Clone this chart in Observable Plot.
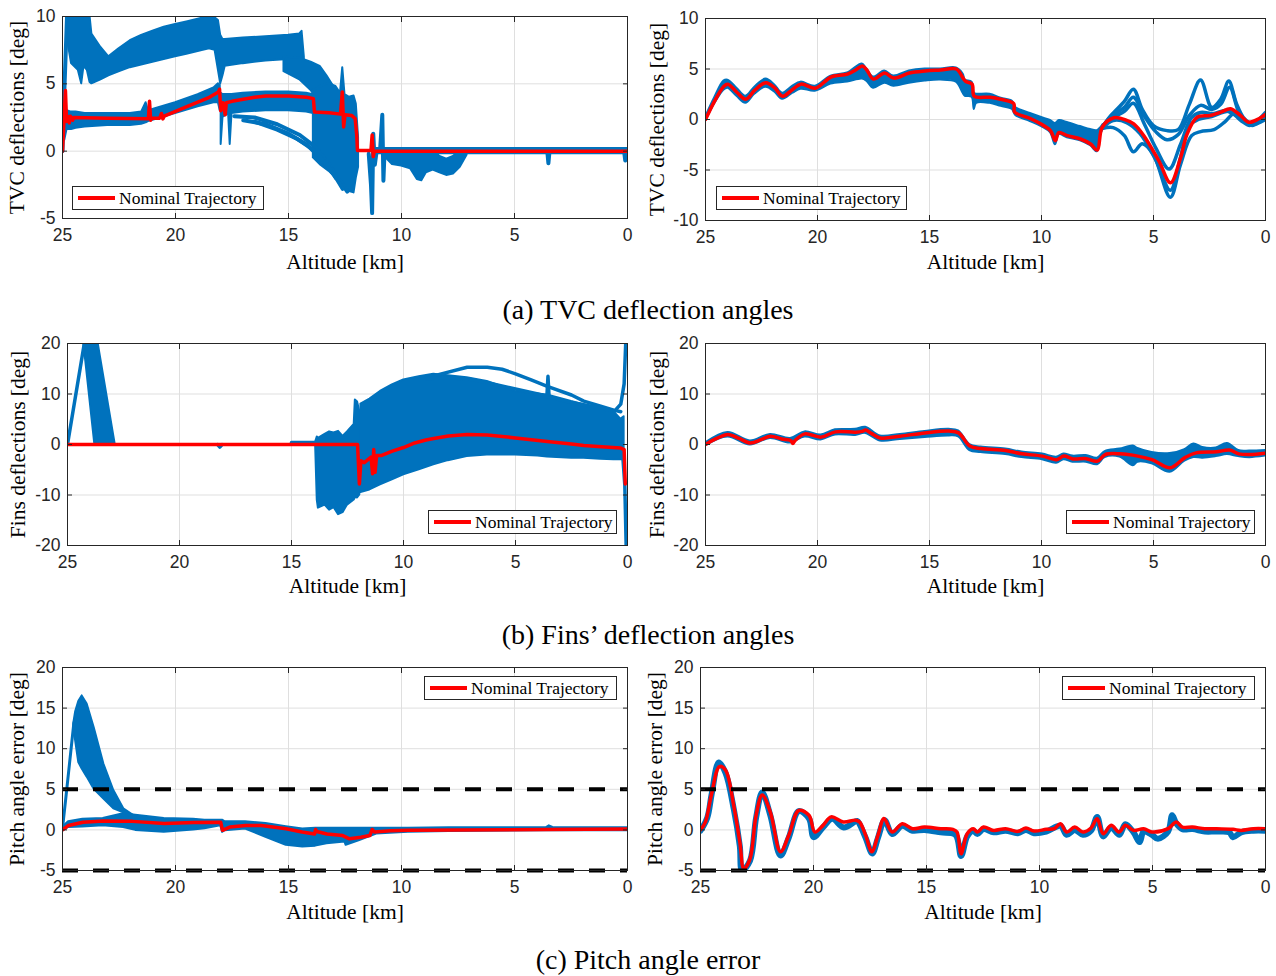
<!DOCTYPE html>
<html><head><meta charset="utf-8">
<script src="https://cdn.jsdelivr.net/npm/d3@7"></script>
<script src="https://cdn.jsdelivr.net/npm/@observablehq/plot@0.6"></script>
<style>
body{margin:0;background:#fff;}
#page{position:relative;width:1276px;height:976px;overflow:hidden;background:#fff;}
.panel{position:absolute;}
.legend{position:absolute;border:1px solid #262626;background:#fff;box-sizing:border-box;font-family:"Liberation Serif",serif;font-size:17.5px;color:#000;}
.legend .sw{position:absolute;left:5px;top:50%;width:37px;height:4px;margin-top:-2px;background:#ff0000;}
.legend .tx{position:absolute;left:46px;top:0;line-height:22px;white-space:nowrap;}
.caption{position:absolute;left:0;width:1296px;text-align:center;font-family:"Liberation Serif",serif;font-size:28px;line-height:28px;color:#000;}
</style></head>
<body><div id="page"></div>
<script>
// ---------- shared ----------
const altTicks = [25, 20, 15, 10, 5, 0];
const pitchLimits = [5, -5];

// ---------- (a) TVC deflections, left ----------
const aL_nominal = [[25,0],[24.87,4.5],[24.82,2.2],[24.78,2.6],[24.7,2.1],[24.65,2.6],[24.55,2.3],[24.5,2.5],[23,2.45],[21.2,2.4],[21.15,3.7],[21.1,2.3],[21.05,2.45],[20.7,2.45],[20.62,2.8],[20.56,2.4],[20.5,2.6],[19.5,3.3],[18.5,4.0],[18.1,4.4],[18.05,4.6],[18.0,3.0],[17.9,3.6],[17.8,2.7],[17.75,3.6],[17.5,3.7],[17,3.85],[16.5,4.0],[16,4.1],[15,4.1],[14.2,4.0],[13.9,3.9],[13.85,2.9],[13.2,2.85],[12.7,2.75],[12.62,4.4],[12.56,1.8],[12.5,2.7],[12.2,2.65],[12.05,2.4],[11.98,1.2],[11.95,0.05],[11.35,0.05],[11.3,1.2],[11.25,-0.4],[11.2,0],[0,0]];
const aL_upperBand = [[24.8,8.5,10],[24.6,6.5,10],[24.3,6.0,10],[24.15,5.0,10],[24.05,6.3,10],[23.9,6.0,10],[23.78,5.1,10],[23.7,5.0,8.7],[23.3,5.3,7.7],[22.95,5.6,7.0],[22.5,5.9,7.6],[22.0,6.2,8.2],[21.5,6.4,8.6],[21.0,6.6,8.9],[20.5,6.8,9.2],[20.0,7.0,9.4],[19.5,7.2,9.6],[19.0,7.4,9.8],[18.5,7.6,10],[18.25,7.5,9.9],[18.1,6.0,9.7],[18.0,5.0,8.6],[17.9,5.6,8.3],[17.8,6.3,8.3],[17.0,6.5,8.4],[16.0,6.7,8.5],[15.0,6.8,8.6],[14.5,6.8,8.7],[14.4,6.6,8.9],[14.3,6.0,7.0]];
const aL_upperTails = [[15.2,5.9,7.0],[14.5,5.3,6.9],[14.0,4.5,6.6],[13.6,3.5,6.3],[13.3,2.5,5.6],[13.0,1.5,4.8],[12.7,0.5,3.8],[12.45,-0.3,2.5],[12.25,-0.6,1.0],[12.1,-0.3,0]];
const aL_lowerBand = [[24.9,0.8,2.5],[24.8,1.6,3.0],[24.6,1.6,2.9],[24.4,1.7,2.9],[24.0,1.8,2.8],[23.0,1.9,2.8],[22.0,1.9,2.8],[21.5,2.0,2.9],[21.3,2.1,3.6],[21.2,2.2,3.0],[21.0,2.3,3.1],[20.0,2.8,3.6],[19.0,3.3,4.2],[18.3,3.6,4.7],[18.1,3.6,5.0],[18.02,3.0,4.9]];
const aL_lowerBand2 = [[17.98,0.5,4.3],[17.9,2.5,4.2],[17.65,2.8,4.2],[17.58,0.5,4.2],[17.5,2.8,4.2],[17.0,2.9,4.3],[16.0,3.0,4.4],[15.0,3.0,4.4],[14.2,2.9,4.3],[13.9,2.8,4.2]];
const aL_tangle = [[13.9,-0.5,4.5],[13.6,-1.0,4.8],[13.2,-1.5,5.0],[12.9,-2.0,4.8],[12.7,-2.2,4.3],[12.6,-2.3,6.2],[12.5,-2.5,4.2],[12.3,-3.0,4.0],[12.1,-3.1,4.1],[12.0,-2.0,3.5],[11.9,-1.2,1.0]];
const aL_below = [[10.8,-0.3,0.15],[10.4,-1.0,0.15],[10.0,-1.1,0.15],[9.6,-1.3,0.15],[9.3,-2.1,0.15],[9.1,-2.2,0.15],[8.9,-1.6,0.15],[8.6,-1.4,0.15],[8.3,-1.6,-0.4],[8.0,-1.8,-0.6],[7.7,-1.7,-0.4],[7.4,-1.2,0.15],[7.1,-0.3,0.15]];
const aL_zeroBand = [[11.2,-0.2,0.2],[0,-0.2,0.2]];
const aL_spike = [[25,0],[24.95,3],[24.8,10]];
const aL_fan1 = [[17.4,2.6],[16.5,2.5],[15.5,2.0],[14.5,1.2],[13.8,0.3],[13.3,-0.8],[12.8,-2.0],[12.4,-3.0]];
const aL_fan2 = [[17.0,2.3],[16.0,2.0],[15.0,1.3],[14.2,0.5],[13.6,-0.5],[13.0,-1.7],[12.6,-2.8]];
const aL_fan3 = [[16.5,2.2],[15.5,1.6],[14.6,0.9],[13.9,0.1],[13.3,-1.0],[12.9,-2.0]];
const aL_osc1 = [[11.45,-0.2],[11.35,-2.5],[11.3,-4.6],[11.25,1.3],[11.18,-1.0],[11.1,0]];
const aL_osc2 = [[10.95,0],[10.85,2.7],[10.8,-2.2],[10.75,0]];
const aL_blip1 = [[3.55,0],[3.5,-0.9],[3.45,0]];
const aL_blip2 = [[0.15,0],[0.1,-0.7],[0.05,0]];

// ---------- (a) TVC deflections, right ----------
const aR_nominal = [[25,0],[24.6,1.8],[24.18,3.3],[24.0,3.5],[23.6,2.7],[23.2,2.0],[22.8,2.9],[22.3,3.65],[21.9,3.1],[21.56,2.3],[21.1,3.0],[20.74,3.5],[20.1,3.1],[19.7,3.7],[19.4,4.2],[18.66,4.5],[18.3,4.9],[18.0,5.3],[17.8,4.9],[17.5,4.0],[17.0,4.6],[16.6,4.1],[15.9,4.6],[15.2,4.8],[14.5,4.9],[13.8,5.0],[13.4,3.8],[13.1,3.5],[13.0,2.3],[12.3,2.2],[11.83,2.0],[11.24,1.57],[11.2,0.75],[10.5,0.1],[10.04,-0.43],[9.6,-1.1],[9.38,-2.1],[9.23,-1.3],[8.85,-1.6],[8.26,-1.93],[7.81,-2.43],[7.51,-3.03],[7.29,-0.77],[6.77,0.17],[6.25,-0.03],[5.88,-0.43],[5.43,-1.6],[4.76,-4.1],[4.24,-6.27],[3.79,-3.77],[3.5,-1.43],[3.05,0.23],[2.46,0.4],[2.0,0.73],[1.56,1.07],[1.12,0.4],[0.75,-0.27],[0.3,0.07],[0,0.5]];
const aR_band = [[25,-0.2,0.2],[24.6,1.5,2.1],[24.18,2.9,3.8],[24.0,3.1,3.9],[23.6,2.3,3.1],[23.2,1.6,2.3],[22.8,2.5,3.2],[22.3,3.2,4.0],[21.9,2.7,3.4],[21.56,2.0,2.6],[21.1,2.6,3.3],[20.74,3.0,3.7],[20.1,2.8,3.3],[19.4,3.5,4.3],[18.66,3.7,4.6],[18.0,4.0,5.5],[17.8,3.8,5.0],[17.5,3.1,4.2],[17.0,3.6,4.8],[16.6,3.3,4.3],[15.9,3.6,4.8],[15.2,3.8,5.0],[14.5,3.9,5.0],[13.8,3.7,5.1],[13.5,2.6,4.5],[13.4,2.3,3.9],[13.1,2.2,3.7],[13.0,1.0,2.6],[12.9,1.6,2.5],[12.3,1.6,2.5],[11.8,1.3,2.1],[11.3,1.0,1.8],[11.15,0.4,1.2],[10.5,-0.2,0.6],[10.0,-0.7,0.2],[9.6,-1.3,-0.1],[9.38,-2.5,-0.4],[9.2,-1.5,-0.1],[8.85,-1.8,-0.3],[8.26,-2.1,-0.7],[7.81,-2.6,-1.0],[7.51,-3.2,-1.1],[7.35,-1.5,-0.8],[7.25,-1.0,-0.5]];
const aR_run1 = [[7.3,-0.8],[6.9,0.4],[6.3,1.8],[5.9,3.0],[5.5,1.0],[5.0,-0.6],[4.4,-1.1],[3.9,-1.0],[3.4,1.5],[2.9,3.9],[2.4,1.2],[2.0,2.0],[1.64,3.8],[1.3,1.6],[0.95,0.1],[0.6,-0.4],[0.3,-0.1],[0,0.4]];
const aR_run2 = [[7.3,-0.8],[6.9,0.3],[6.3,1.2],[5.9,2.2],[5.4,0.3],[4.9,-1.2],[4.4,-2.0],[3.9,-1.5],[3.4,0.4],[2.9,1.4],[2.4,1.0],[2.0,1.5],[1.6,3.2],[1.2,0.8],[0.8,-0.3],[0.3,-0.1],[0,0.2]];
const aR_run3 = [[7.3,-0.8],[6.8,0.2],[6.3,0.8],[5.9,1.6],[5.4,-0.5],[4.9,-2.8],[4.3,-4.9],[3.8,-2.5],[3.3,0.2],[2.9,0.7],[2.3,0.6],[1.8,0.9],[1.4,0.5],[1.0,0.0],[0.6,-0.5],[0,0]];
const aR_run4 = [[7.3,-0.9],[6.8,-0.8],[6.3,-1.6],[5.9,-3.2],[5.5,-2.4],[5.0,-3.5],[4.25,-7.7],[3.8,-4.5],[3.3,-1.6],[2.9,-1.2],[2.3,-1.0],[1.8,-0.2],[1.4,0.6],[1.0,0.1],[0.6,-0.6],[0.2,-0.1],[0,0.2]];
const aR_run5 = [[7.3,-0.9],[6.8,-0.1],[6.2,-0.3],[5.6,-1.4],[4.9,-4.0],[4.25,-7.0],[3.8,-3.8],[3.4,-0.6],[3.0,0.0],[2.4,0.3],[1.6,0.8],[1.1,-0.1],[0.7,-0.6],[0.3,0],[0,0.7]];

// ---------- (b) Fins deflections, left ----------
const bL_nominal = [[25,0],[12.05,0],[11.97,-7.8],[11.9,-3.2],[11.75,-3.6],[11.45,-2.5],[11.38,-5.8],[11.33,-1.0],[11.27,-5.5],[11.2,-2.2],[11.0,-2.2],[10.5,-1.3],[10.0,-0.6],[9.5,0.3],[9.0,0.9],[8.65,1.2],[8.0,1.7],[7.16,2.0],[6.26,1.9],[5.0,1.3],[3.58,0.6],[2.5,0.1],[1.95,-0.2],[1.0,-0.5],[0.3,-0.7],[0.15,-1.0],[0.1,-7.8]];
const bL_triangle = [[24.27,20,20],[23.78,0,20],[23.63,0,20],[22.87,0,0]];
const bL_dense = [[13.92,-0.5,0.5],[13.85,-11,1.5],[13.8,-12.6,1.2],[13.5,-12,2.0],[13.3,-13,2.5],[13.1,-12.5,2.3],[12.9,-13.9,2.6],[12.7,-13.5,1.6],[12.5,-12,2.5],[12.2,-11,4.0],[12.15,-10.5,8.8],[12.05,-10.6,8.4],[11.95,-10,6.5]];
const bL_fan = [[11.9,-9.5,8.0],[11.5,-9.0,9.0],[11.03,-8.0,10.5],[10.5,-7.0,11.8],[9.99,-6.0,12.8],[9.3,-5.0,13.4],[8.65,-4.0,13.9],[8.0,-3.2,13.6],[7.16,-2.4,13.2],[6.26,-2.1,12.5],[5.0,-2.1,10.5],[4.0,-2.3,10.0],[3.58,-2.5,9.8],[2.5,-2.7,8.5],[1.95,-2.7,7.9],[1.2,-2.9,7.0],[0.61,-3.0,6.5],[0.3,-3.0,5.0],[0.15,-3.0,5.5]];
const bL_edge = [[25,0],[24.25,20]];
const bL_flat = [[15,0.4],[13.9,0.4]];
const bL_blip = [[18.3,0],[18.2,-0.5],[18.1,0]];
const bL_top1 = [[8.65,13.6],[7.16,15.3],[6.26,15.3],[5.6,14.9],[5.0,14.0],[4.3,12.8],[3.58,11.5],[2.5,9.8],[1.95,8.6],[1.2,7.6],[0.61,6.8],[0.3,6.5]];
const bL_top2 = [[9.0,13.0],[8.0,13.2],[7.0,12.9],[6.0,12.0],[5.0,11.0],[4.0,10.0],[3.6,9.5],[3.55,13.5],[3.5,9.4],[2.5,8.3],[1.5,7.5],[0.6,6.6]];
const bL_endUp = [[0.6,6.5],[0.3,8.0],[0.15,12],[0.08,20]];
const bL_endDown = [[0.2,-3],[0.12,-8],[0.06,-20]];

// ---------- (b) Fins deflections, right ----------
const bR_nominal = [[25,0],[24.5,1.2],[24.0,2.0],[23.5,1.2],[23.0,0.3],[22.5,1.0],[22.1,1.65],[21.6,1.1],[21.2,0.8],[21.1,0.2],[21.0,0.8],[20.56,2.1],[19.84,1.46],[19.2,2.5],[18.3,2.45],[18.0,2.6],[17.85,2.85],[17.6,2.2],[17.2,1.3],[16.3,1.65],[15.2,2.3],[14.13,2.65],[13.7,2.3],[13.2,-0.3],[12.7,-0.8],[11.6,-1.2],[10.87,-1.85],[9.96,-2.3],[9.33,-3.0],[9.0,-2.3],[8.6,-2.85],[8.0,-2.8],[7.5,-3.3],[7.16,-2.0],[6.5,-1.85],[5.7,-2.3],[5.07,-3.0],[4.26,-4.6],[3.6,-2.6],[3.1,-1.66],[2.2,-1.45],[1.6,-1.1],[1.2,-1.85],[0.7,-2.0],[0,-1.7]];
const bR_band = [[25,-0.3,0.3],[24.0,1.5,2.4],[23.0,-0.1,0.7],[22.1,1.2,2.0],[21.2,0.3,1.2],[20.56,1.5,2.5],[19.84,0.9,1.9],[19.2,1.9,2.9],[18.3,1.8,3.0],[17.85,2.2,3.4],[17.2,0.7,1.7],[16.3,1.0,2.0],[15.2,1.4,2.6],[14.13,1.7,3.0],[13.7,1.5,2.7],[13.2,-1.2,0.0],[12.7,-1.6,-0.5],[11.6,-2.0,-0.9],[10.87,-2.6,-1.5],[9.96,-3.0,-1.9],[9.33,-3.7,-2.5],[9.0,-3.0,-1.9],[8.6,-3.5,-2.3],[8.0,-3.5,-2.2],[7.5,-4.0,-2.7],[7.16,-2.6,-1.4],[6.5,-2.5,-0.9],[5.9,-4.2,-0.3],[5.7,-3.5,-0.8],[5.07,-3.8,-1.6],[4.26,-5.5,-1.8],[3.6,-3.3,-1.0],[3.2,-2.6,0.1],[2.8,-2.7,-0.6],[2.2,-2.4,-0.7],[1.7,-2.0,0.2],[1.2,-2.4,-1.2],[0.7,-2.6,-1.3],[0,-2.3,-1.2]];

// ---------- (c) Pitch angle error, left ----------
const cL_nominal = [[25,0],[24.73,0.55],[24.1,0.95],[23.2,1.1],[21.9,1.05],[20.5,0.8],[19.2,0.9],[18.0,0.95],[17.92,-0.05],[17.6,0.35],[16.9,0.55],[16.2,0.55],[15.1,0.15],[14.4,-0.25],[13.85,-0.5],[13.8,0.05],[13.75,-0.2],[13.3,-0.5],[12.6,-0.7],[12.3,-1.1],[11.8,-0.9],[11.4,-0.7],[11.3,0.05],[11.2,-0.25],[10.5,-0.1],[9.7,-0.05],[0,0.1]];
const cL_lobe = [[24.5,12.5,13.1],[24.42,11.0,14.5],[24.28,8.3,15.8],[24.13,7.5,16.5],[23.91,6.5,15.5],[23.6,5.0,12.6],[23.17,3.8,8.1],[22.73,2.6,4.85],[22.29,2.1,2.6],[21.7,1.3,1.5]];
const cL_band = [[25,-0.2,0.3],[24.73,0.3,1.0],[24.1,0.35,1.3],[23.2,0.5,1.4],[22.3,0.3,2.0],[21.76,-0.06,1.8],[20.5,-0.3,1.4],[19.2,0,1.3],[18.7,0.15,1.2],[18.0,0.5,1.2],[17.92,-0.3,1.2],[17.8,-0.1,1.0],[16.9,0.1,1.0],[16.0,-0.9,0.8],[15.1,-1.9,0.4],[14.37,-2.1,0.1],[13.8,-2.0,0.2],[13.3,-1.7,0.2],[12.5,-1.5,0.2],[12.45,-1.9,0.2],[11.85,-1.3,0.2],[11.1,-0.5,0.2],[9.7,-0.3,0.2],[7.9,-0.2,0.25],[3.6,-0.1,0.25],[3.46,-0.1,0.5],[3.3,-0.1,0.3],[0,-0.1,0.25]];
const cL_edge = [[25,0.2],[24.85,4],[24.5,13.1],[24.2,16.1]];

// ---------- (c) Pitch angle error, right ----------
const cR_nominal = [[25,0],[24.78,1.0],[24.52,4.3],[24.16,7.8],[23.89,7.35],[23.53,3.0],[23.26,-1.5],[23.08,-4.8],[22.81,-3.56],[22.54,1.8],[22.27,4.3],[21.91,2.2],[21.46,-2.7],[21.1,-0.7],[20.65,2.4],[20.2,1.8],[19.94,-0.26],[19.58,0.56],[19.22,1.6],[18.68,0.97],[18.14,1.2],[17.96,0.97],[17.69,-0.68],[17.42,-2.7],[17.15,-0.68],[16.88,1.4],[16.52,-0.26],[16.07,0.76],[15.62,0.15],[15.09,0.35],[14.37,0.15],[13.83,0.07],[13.65,-0.26],[13.47,-2.94],[13.2,-0.47],[12.93,0.15],[12.75,-0.26],[12.48,0.35],[12.03,-0.06],[11.5,0.15],[10.96,-0.18],[10.6,0.23],[10.24,-0.14],[9.7,0.07],[9.34,0.15],[9.07,0.77],[8.8,-0.26],[8.44,0.35],[8.08,-0.26],[7.72,0.23],[7.45,1.38],[7.18,-0.47],[6.83,0.56],[6.47,-0.26],[6.2,0.56],[5.84,-0.06],[5.39,0.15],[5.03,-0.26],[4.31,0.15],[3.95,0.97],[3.68,0.35],[3.23,0.35],[2.69,0.15],[2.16,0.15],[1.44,0.07],[1.08,-0.06],[0.54,0.15],[0,0.15]];
const cR_bundle = [[25,-0.1],[24.7,1.5],[24.5,4.5],[24.19,8.3],[23.89,7.0],[23.53,2.6],[23.26,-2.0],[23.16,-5.0],[22.81,-3.8],[22.54,1.5],[22.27,4.6],[21.91,1.8],[21.46,-3.15],[21.1,-1.0],[20.65,2.3],[20.2,1.4],[19.99,-0.9],[19.58,0.3],[19.17,1.37],[18.66,0.3],[18.07,1.1],[17.96,0.7],[17.69,-1.0],[17.4,-2.9],[17.15,-1.0],[16.85,1.2],[16.52,-0.5],[16.07,0.5],[15.62,-0.1],[15.09,0.0],[14.37,-0.3],[13.72,-0.6],[13.47,-3.2],[13.2,-0.8],[12.93,-0.1],[12.75,-0.5],[12.48,0.1],[12.03,-0.3],[11.5,-0.1],[10.96,-0.4],[10.6,0.0],[10.24,-0.4],[9.7,-0.2],[9.07,0.5],[8.8,-0.6],[8.44,0.0],[8.08,-0.6],[7.72,-0.1],[7.45,1.6],[7.18,-0.8],[6.83,0.3],[6.47,-0.6],[6.2,0.7],[5.84,-0.3],[5.57,-1.5],[5.39,-0.2],[5.03,-0.6],[4.76,-1.1],[4.31,-0.2],[4.13,1.8],[3.95,0.8],[3.68,0.1],[3.23,0.1],[2.69,-0.2],[2.16,-0.2],[1.6,-0.3],[1.44,-0.9],[1.08,-0.3],[0.54,-0.1],[0,-0.1]];

// ---------- rendering ----------
const BLUE = "#0072BD", RED = "#FF0000";
const SANS = "'Liberation Sans', Arial, Helvetica, sans-serif";
const SERIF = "'Liberation Serif', 'Times New Roman', serif";
const X = d => d[0], Y = d => d[1], Y1 = d => d[1], Y2 = d => d[2];

function panel(cfg) {
  const curve = cfg.curve || "linear";
  const marks = [
    Plot.gridX(altTicks, {stroke: "#dfdfdf", strokeOpacity: 1}),
    Plot.gridY(cfg.yTicks, {stroke: "#dfdfdf", strokeOpacity: 1})
  ];
  for (const a of cfg.areas || []) marks.push(Plot.areaY(a, {x: X, y1: Y1, y2: Y2, fill: BLUE, stroke: BLUE, strokeWidth: 2, curve, clip: true}));
  for (const l of cfg.lines || []) marks.push(Plot.line(l, {x: X, y: Y, stroke: BLUE, strokeWidth: cfg.blueWidth || 3, strokeLinejoin: "round", curve, clip: true}));
  marks.push(Plot.line(cfg.nominal, {x: X, y: Y, stroke: RED, strokeWidth: 3.5, strokeLinejoin: "round", curve, clip: true}));
  if (cfg.limits) marks.push(Plot.ruleY(cfg.limits, {stroke: "#000", strokeWidth: 4, strokeDasharray: "16,15"}));
  marks.push(Plot.frame({stroke: "#262626", strokeWidth: 1}));
  marks.push(Plot.axisX(altTicks, {anchor: "bottom", tickSize: -5, tickPadding: 15, tickFormat: d => String(d), fontSize: 17.5, fontFamily: SANS, color: "#262626", label: null}));
  marks.push(Plot.axisX(altTicks, {anchor: "top", tickSize: -5, tickFormat: () => "", color: "#262626", label: null}));
  marks.push(Plot.axisY(cfg.yTicks, {anchor: "left", tickSize: -5, tickPadding: 12, tickFormat: d => String(d), fontSize: 17.5, fontFamily: SANS, color: "#262626", label: null}));
  marks.push(Plot.axisY(cfg.yTicks, {anchor: "right", tickSize: -5, tickFormat: () => "", color: "#262626", label: null}));
  marks.push(Plot.axisX([], {anchor: "bottom", tickSize: 0, label: "Altitude [km]", labelAnchor: "center", labelOffset: cfg.xLabelOffset, labelArrow: false, fontSize: 21.5, fontFamily: SERIF, color: "#000"}));
  marks.push(Plot.axisY([], {anchor: "left", tickSize: 0, label: cfg.yLabel, labelAnchor: "center", labelOffset: cfg.yLabelOffset, labelArrow: false, fontSize: 21.5, fontFamily: SERIF, color: "#000"}));
  const svg = Plot.plot({
    width: cfg.width, height: cfg.height,
    marginLeft: cfg.ml, marginRight: cfg.mr, marginTop: cfg.mt, marginBottom: cfg.mb,
    x: {domain: [25, 0]},
    y: {domain: cfg.yDomain},
    style: {background: "transparent", overflow: "visible"},
    marks
  });
  const div = document.createElement("div");
  div.className = "panel";
  div.style.left = cfg.left + "px";
  div.style.top = cfg.top + "px";
  div.appendChild(svg);
  document.getElementById("page").appendChild(div);
}

function legend(x, y, w, h) {
  const d = document.createElement("div");
  d.className = "legend";
  Object.assign(d.style, {left: x + "px", top: y + "px", width: w + "px", height: h + "px"});
  d.innerHTML = '<div class="sw"></div><div class="tx">Nominal Trajectory</div>';
  document.getElementById("page").appendChild(d);
}
function caption(text, y) {
  const d = document.createElement("div");
  d.className = "caption";
  d.style.top = (y - 14) + "px";
  d.textContent = text;
  document.getElementById("page").appendChild(d);
}

const tvcLabel = "TVC deflections [deg]";
const finsLabel = "Fins deflections [deg]";
const pitchLabel = "Pitch angle error [deg]";

panel({left: 0, top: 0, width: 640, height: 280, ml: 62, mr: 13, mt: 16, mb: 62,
  yDomain: [-5, 10], yTicks: [-5, 0, 5, 10], yLabel: tvcLabel, yLabelOffset: 54, xLabelOffset: 50,
  areas: [aL_zeroBand, aL_below, aL_upperBand, aL_upperTails, aL_lowerBand, aL_lowerBand2, aL_tangle],
  lines: [aL_spike, aL_fan1, aL_fan2, aL_fan3, aL_osc1, aL_osc2, aL_blip1, aL_blip2],
  blueWidth: 4, nominal: aL_nominal});
panel({left: 640, top: 0, width: 636, height: 280, ml: 65, mr: 11, mt: 18, mb: 60,
  yDomain: [-10, 10], yTicks: [-10, -5, 0, 5, 10], yLabel: tvcLabel, yLabelOffset: 57, xLabelOffset: 48,
  areas: [aR_band], lines: [aR_run1, aR_run2, aR_run3, aR_run4, aR_run5],
  blueWidth: 3.5, nominal: aR_nominal, curve: "catmull-rom"});
panel({left: 0, top: 325, width: 640, height: 280, ml: 67, mr: 13, mt: 18, mb: 60,
  yDomain: [-20, 20], yTicks: [-20, -10, 0, 10, 20], yLabel: finsLabel, yLabelOffset: 58, xLabelOffset: 47,
  areas: [bL_triangle, bL_dense, bL_fan], lines: [bL_edge, bL_flat, bL_blip, bL_top1, bL_top2, bL_endUp, bL_endDown],
  blueWidth: 3.5, nominal: bL_nominal});
panel({left: 640, top: 325, width: 636, height: 280, ml: 65, mr: 11, mt: 18, mb: 60,
  yDomain: [-20, 20], yTicks: [-20, -10, 0, 10, 20], yLabel: finsLabel, yLabelOffset: 57, xLabelOffset: 47,
  areas: [bR_band], lines: [], nominal: bR_nominal, curve: "catmull-rom"});
panel({left: 0, top: 650, width: 640, height: 280, ml: 62, mr: 13, mt: 17, mb: 60,
  yDomain: [-5, 20], yTicks: [-5, 0, 5, 10, 15, 20], yLabel: pitchLabel, yLabelOffset: 54, xLabelOffset: 48,
  areas: [cL_band, cL_lobe], lines: [cL_edge], blueWidth: 3,
  nominal: cL_nominal, limits: pitchLimits});
panel({left: 640, top: 650, width: 636, height: 280, ml: 60, mr: 11, mt: 17, mb: 60,
  yDomain: [-5, 20], yTicks: [-5, 0, 5, 10, 15, 20], yLabel: pitchLabel, yLabelOffset: 54, xLabelOffset: 48,
  areas: [], lines: [cR_bundle], blueWidth: 6,
  nominal: cR_nominal, limits: pitchLimits, curve: "catmull-rom"});

legend(72, 186, 192, 24);
legend(716, 186, 191, 24);
legend(428, 510, 189, 24);
legend(1066, 510, 189, 24);
legend(424, 676, 193, 24);
legend(1062, 676, 193, 24);

caption("(a) TVC deflection angles", 310);
caption("(b) Fins\u2019 deflection angles", 635);
caption("(c) Pitch angle error", 960);
</script>
</body></html>
